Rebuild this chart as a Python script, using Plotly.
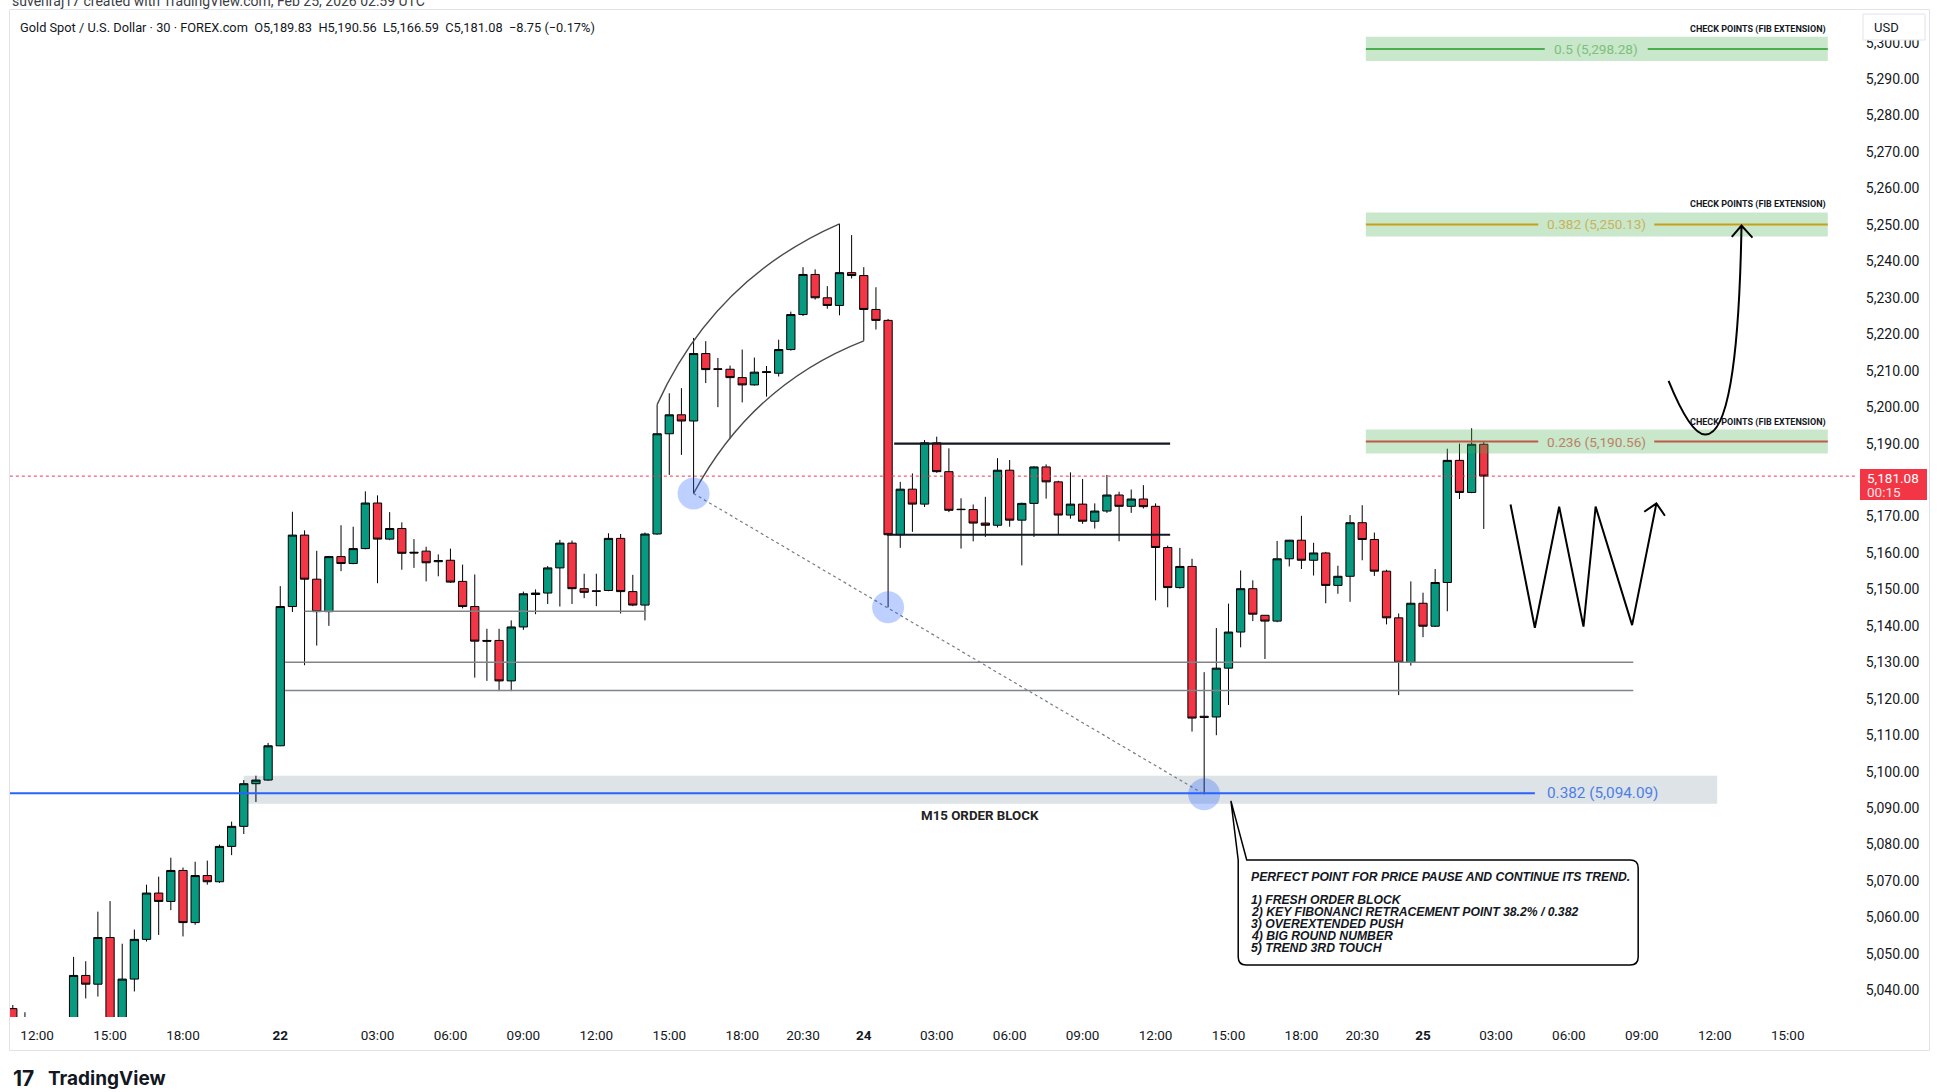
import plotly.graph_objects as go

# 30-min XAUUSD candles. x = bar number (0 = Fri 20 Feb 12:00), closed hours skipped
bar_index = list(range(-2, 120))
opens = [
    5035.0, 5029.0,
    5025.0, 5022.0, 5026.0, 5028.0, 5044.1, 5041.7, 5054.5, 5028.0, 5043.1, 5054.0,
    5066.7, 5064.4, 5072.9, 5058.6, 5071.5, 5069.8, 5079.5, 5085.0, 5096.7, 5097.7,
    5107.1, 5145.3, 5164.9, 5152.8, 5143.9, 5159.0, 5157.1, 5161.2, 5173.7, 5163.8,
    5166.7, 5160.2, 5160.5, 5157.6, 5158.0, 5152.2, 5145.3, 5136.0, 5136.0, 5124.9,
    5139.7, 5148.6, 5149.0, 5155.9, 5162.7, 5150.2, 5149.6, 5149.7, 5164.0, 5149.4,
    5145.7, 5165.2, 5192.7, 5197.9, 5196.2, 5214.7, 5210.5, 5210.4, 5208.1, 5206.1,
    5209.5, 5209.3, 5215.8, 5225.4, 5236.4, 5230.0, 5227.9, 5236.9, 5236.1, 5226.8,
    5223.8, 5165.0, 5177.5, 5173.4, 5190.2, 5182.3, 5172.0, 5171.9, 5168.2, 5167.6,
    5182.7, 5169.0, 5173.6, 5183.6, 5179.5, 5170.4, 5173.4, 5168.7, 5171.5, 5175.9,
    5172.8, 5174.8, 5172.8, 5161.5, 5150.5, 5156.3, 5115.2, 5115.0, 5128.4, 5138.3,
    5150.2, 5142.9, 5141.3, 5158.4, 5163.5, 5158.0, 5160.0, 5151.1, 5153.6, 5168.3,
    5163.7, 5155.0, 5142.2, 5130.0, 5146.2, 5139.9, 5151.9, 5185.4, 5176.6, 5189.83,
]
highs = [
    5036.0, 5034.0,
    5030.0, 5028.0, 5031.0, 5049.2, 5048.0, 5061.6, 5064.5, 5052.8, 5056.7, 5069.0,
    5071.2, 5076.4, 5073.7, 5075.3, 5075.6, 5080.0, 5086.3, 5097.7, 5098.9, 5107.9,
    5150.9, 5171.3, 5166.2, 5160.6, 5159.2, 5167.6, 5167.2, 5176.9, 5175.8, 5171.2,
    5168.4, 5163.8, 5161.7, 5159.6, 5161.2, 5156.8, 5154.1, 5139.2, 5139.2, 5141.5,
    5149.4, 5150.0, 5156.4, 5163.6, 5163.4, 5154.3, 5154.3, 5165.4, 5165.2, 5154.0,
    5165.6, 5200.7, 5203.8, 5205.2, 5219.0, 5218.1, 5213.5, 5211.4, 5215.8, 5213.6,
    5211.3, 5218.5, 5226.2, 5238.4, 5237.8, 5233.2, 5250.3, 5247.2, 5238.4, 5232.9,
    5224.2, 5179.5, 5181.8, 5191.0, 5191.9, 5188.7, 5175.0, 5173.3, 5175.4, 5186.0,
    5185.5, 5173.8, 5183.8, 5184.3, 5179.8, 5182.1, 5180.3, 5173.6, 5181.4, 5176.8,
    5177.4, 5178.6, 5173.6, 5162.0, 5161.4, 5158.4, 5127.3, 5139.4, 5146.1, 5155.2,
    5152.5, 5142.9, 5163.3, 5163.6, 5170.2, 5162.8, 5160.3, 5156.5, 5170.4, 5173.1,
    5165.6, 5155.4, 5143.4, 5152.2, 5149.1, 5155.6, 5188.6, 5190.0, 5194.2, 5190.56,
]
lows = [
    5026.0, 5022.0,
    5018.0, 5015.0, 5020.0, 5026.0, 5037.8, 5038.3, 5024.0, 5026.0, 5039.7, 5053.4,
    5055.2, 5062.0, 5054.8, 5058.0, 5069.0, 5069.5, 5077.1, 5082.9, 5091.7, 5097.5,
    5107.0, 5143.8, 5129.2, 5134.6, 5140.0, 5155.0, 5156.9, 5161.0, 5151.7, 5163.5,
    5155.4, 5155.9, 5152.2, 5153.6, 5151.8, 5144.8, 5125.8, 5124.9, 5122.1, 5122.1,
    5138.9, 5143.2, 5146.0, 5145.3, 5146.0, 5147.6, 5145.4, 5149.5, 5143.4, 5145.4,
    5141.5, 5165.0, 5181.4, 5186.9, 5176.3, 5206.6, 5200.0, 5191.4, 5201.3, 5205.9,
    5202.9, 5208.4, 5215.5, 5225.0, 5229.5, 5227.0, 5225.2, 5235.3, 5218.2, 5221.3,
    5145.1, 5161.4, 5165.8, 5172.6, 5182.0, 5171.2, 5161.2, 5163.2, 5164.4, 5167.0,
    5167.2, 5156.6, 5164.4, 5174.9, 5165.0, 5169.4, 5168.0, 5166.7, 5171.0, 5163.2,
    5171.0, 5172.2, 5147.0, 5145.1, 5150.2, 5111.0, 5093.8, 5110.0, 5118.3, 5134.1,
    5141.3, 5130.9, 5141.0, 5156.3, 5155.6, 5153.8, 5146.2, 5148.8, 5146.6, 5158.0,
    5153.7, 5140.4, 5121.0, 5129.1, 5136.9, 5139.7, 5144.0, 5174.8, 5176.4, 5166.59,
]
closes = [
    5029.0, 5025.0,
    5022.0, 5026.0, 5028.0, 5044.1, 5041.7, 5054.5, 5028.0, 5043.1, 5054.0, 5066.7,
    5064.4, 5072.9, 5058.6, 5071.5, 5069.8, 5079.5, 5085.0, 5096.7, 5097.7, 5107.1,
    5145.3, 5164.9, 5152.8, 5143.9, 5159.0, 5157.1, 5161.2, 5173.7, 5163.8, 5166.7,
    5159.9, 5160.0, 5157.3, 5157.9, 5152.0, 5145.3, 5135.8, 5135.8, 5124.9, 5139.7,
    5148.8, 5149.0, 5155.9, 5162.7, 5150.2, 5149.2, 5149.5, 5164.0, 5149.4, 5145.7,
    5165.2, 5192.7, 5197.9, 5196.2, 5214.7, 5210.3, 5210.4, 5208.1, 5206.1, 5209.6,
    5209.7, 5215.8, 5225.4, 5236.4, 5230.0, 5227.9, 5236.9, 5236.1, 5226.8, 5223.8,
    5165.0, 5177.5, 5173.4, 5190.2, 5182.3, 5171.7, 5171.9, 5168.2, 5167.6, 5182.7,
    5169.0, 5173.6, 5183.6, 5179.5, 5170.4, 5173.4, 5168.7, 5171.5, 5175.9, 5172.8,
    5174.8, 5172.7, 5161.5, 5150.5, 5156.3, 5114.7, 5114.9, 5128.4, 5138.3, 5150.2,
    5143.2, 5141.3, 5158.4, 5163.5, 5158.0, 5160.0, 5151.1, 5153.6, 5168.3, 5163.7,
    5155.0, 5142.2, 5130.0, 5146.2, 5139.9, 5151.9, 5185.4, 5176.6, 5189.83, 5181.08,
]

# time axis
tick_bars = [0, 6, 12, 20, 28, 34, 40, 46, 52, 58, 63, 68, 74, 80, 86, 92, 98,
             104, 109, 114, 120, 126, 132, 138, 144]
tick_labels = ["12:00", "15:00", "18:00", "22", "03:00", "06:00", "09:00", "12:00",
               "15:00", "18:00", "20:30", "24", "03:00", "06:00", "09:00", "12:00",
               "15:00", "18:00", "20:30", "25", "03:00", "06:00", "09:00", "12:00", "15:00"]
day_labels = ["22", "24", "25"]
price_ticks = list(range(5040, 5301, 10))

# fib extension check points
fib_ratios = [0.5, 0.382, 0.236]
fib_prices = [5298.28, 5250.13, 5190.56]
fib_colors = ["#4caf50", "#ff9800", "#f23645"]
fib_text_colors = ["#7cc07e", "#c9b25c", "#b98268"]

# M15 order block + 0.382 retracement
ob_ratio = 0.382
ob_price = 5094.09
ob_zone = [5091.2, 5098.9]

# drawn levels: (start bar, end bar, price)
gray_levels = [(22, 50.1, 5144.0), (20.4, 131.3, 5130.0), (20.4, 131.3, 5122.3)]
range_lines = [(70.5, 93.2, 5190.0), (69.9, 93.2, 5165.0)]

# trend touches (bar, price)
touch_bars = [54, 70, 96]
touch_prices = [5176.3, 5145.1, 5093.8]

# projected zigzag
zigzag_bars = [121.2, 123.2, 125.2, 127.2, 128.2, 131.2, 133.2]
zigzag_prices = [5173.3, 5139.5, 5172.7, 5139.8, 5172.7, 5140.2, 5173.6]

callout_title = "PERFECT POINT FOR PRICE PAUSE AND CONTINUE ITS TREND."
callout_points = ["1) FRESH ORDER BLOCK",
                  "2) KEY FIBONANCI RETRACEMENT POINT 38.2% / 0.382",
                  "3) OVEREXTENDED PUSH",
                  "4) BIG ROUND NUMBER",
                  "5) TREND 3RD TOUCH"]

# ---- layout geometry ----
W, H = 1941, 1092
ML, MR, MT, MB = 10, 84, 12, 75
PW, PH = W - ML - MR, H - MT - MB
XR = [-2.23, 149.7]
YR = [5032.7, 5308.4]
px_bar = PW / (XR[1] - XR[0])
px_usd = PH / (YR[1] - YR[0])


def paper_x(px):
    return (px - ML) / PW


def paper_y(py):
    return (H - MB - py) / PH


def price_at(py):
    return YR[1] - (py - MT) / px_usd


FONT = "Roboto"
NOTE_FONT = "Liberation Sans"
INK = "#131722"
GREEN, RED = "#089981", "#f23645"

fig = go.Figure()
fig.add_trace(go.Candlestick(
    x=bar_index, open=opens, high=highs, low=lows, close=closes,
    increasing=dict(fillcolor=GREEN, line=dict(color="#000000", width=1)),
    decreasing=dict(fillcolor=RED, line=dict(color="#000000", width=1)),
    whiskerwidth=0, hoverinfo="skip", showlegend=False,
))

shapes = []
ann = []


def hline(x0, x1, y, color, width, dash="solid", layer="above"):
    shapes.append(dict(type="line", xref="x", yref="y", x0=x0, x1=x1, y0=y, y1=y,
                       line=dict(color=color, width=width, dash=dash), layer=layer))


# panel border
shapes.append(dict(type="rect", xref="paper", yref="paper",
                   x0=paper_x(9.5), x1=paper_x(1929.5), y0=paper_y(1050.5), y1=paper_y(9.5),
                   line=dict(color="#e0e3eb", width=1), fillcolor="rgba(0,0,0,0)", layer="below"))

# order block zone + 0.382 line
shapes.append(dict(type="rect", xref="x", yref="y", x0=17, x1=138.2, y0=ob_zone[0], y1=ob_zone[1],
                   fillcolor="rgba(120,144,156,0.25)", line=dict(width=0), layer="below"))
hline(XR[0] - 1, 123.2, ob_price, "#2962ff", 2)
ann.append(dict(x=124, y=ob_price, xref="x", yref="y", xanchor="left", yanchor="middle",
                text=f"{ob_ratio} ({ob_price:,.2f})", showarrow=False,
                font=dict(family=FONT, size=15.3, color="#4c7fe6")))
ann.append(dict(x=77.6, y=5088.1, xref="x", yref="y", xanchor="center", yanchor="middle",
                text="<b>M15 ORDER BLOCK</b>", showarrow=False,
                font=dict(family=FONT, size=13.3, color="#222222")))

for x0, x1, y in gray_levels:
    hline(x0, x1, y, "#808388", 1.5)
for x0, x1, y in range_lines:
    hline(x0, x1, y, INK, 2.2)

# current price dotted line
hline(XR[0] - 1, XR[1] + 1, closes[-1], RED, 1, dash="dot")

# trend line through the three touches
shapes.append(dict(type="line", xref="x", yref="y", x0=touch_bars[0], y0=touch_prices[0],
                   x1=touch_bars[-1], y1=touch_prices[-1],
                   line=dict(color="#787b86", width=1.2, dash="dot"), layer="above"))

# arc channel
shapes.append(dict(type="path", xref="x", yref="y", layer="above",
                   path=f"M 51,{highs[53]} Q 55.7,5235.3 66,{highs[68]}",
                   line=dict(color="#4a4a4a", width=1.4)))
shapes.append(dict(type="path", xref="x", yref="y", layer="above",
                   path=f"M 54,{touch_prices[0]} Q 58.8,5206.2 68,{lows[70]}",
                   line=dict(color="#4a4a4a", width=1.4)))

for bx, by in zip(touch_bars, touch_prices):
    shapes.append(dict(type="circle", xref="x", yref="y", xsizemode="pixel", ysizemode="pixel",
                       xanchor=bx, yanchor=by, x0=-16, x1=16, y0=-16, y1=16,
                       fillcolor="rgba(41,98,255,0.3)", line=dict(width=0), layer="above"))

# fib extension levels
fx0, fx1, fxc = 109.3, 147.3, 128.25
for ratio, price, col, tcol in zip(fib_ratios, fib_prices, fib_colors, fib_text_colors):
    label = f"{ratio} ({price:,.2f})"
    gap = (len(label) * 6.5 + 12) / 2 / px_bar
    hline(fx0, fxc - gap, price, col, 2)
    hline(fxc + gap, fx1, price, col, 2)
    shapes.append(dict(type="rect", xref="x", yref="y", x0=fx0, x1=fx1, y0=price - 3.3, y1=price + 3.3,
                       fillcolor="rgba(76,175,80,0.3)", line=dict(width=0), layer="above"))
    ann.append(dict(x=fxc, y=price, xref="x", yref="y", xanchor="center", yanchor="middle",
                    text=label, showarrow=False, font=dict(family=FONT, size=13.6, color=tcol)))
    ann.append(dict(x=fx1, y=price + 3.3, xref="x", yref="y", xanchor="right", yanchor="bottom",
                    yshift=0, text="<b>CHECK POINTS (FIB EXTENSION)</b>", showarrow=False,
                    font=dict(family=FONT, size=9, color=INK)))

# zigzag projection
zz = "M " + " L ".join(f"{x},{y}" for x, y in zip(zigzag_bars, zigzag_prices))
zz += f" M 132.2,5171.3 L {zigzag_bars[-1]},{zigzag_prices[-1]} L 133.9,5170.2"
shapes.append(dict(type="path", xref="x", yref="y", path=zz, layer="above",
                   line=dict(color="#000000", width=2)))

# curved arrow to 0.382 extension
ca = (f"M 134.2,5207.2 Q 136,5192.5 137.2,5192.5 Q 139.9,5192 140.2,5249.8 "
      f"M 139.4,5246.7 L 140.2,5249.8 L 141.1,5246.5")
shapes.append(dict(type="path", xref="x", yref="y", path=ca, layer="above",
                   line=dict(color="#000000", width=2)))

# callout box
L, R, T, B = 98.8, 131.7, price_at(860), price_at(965)
rx, ry = 8 / px_bar, 8 / px_usd
tip = (98.2, 5092.0)
box = (f"M {tip[0]},{tip[1]} L 99.5,{T} L {R - rx},{T} Q {R},{T} {R},{T - ry} "
       f"L {R},{B + ry} Q {R},{B} {R - rx},{B} L {L + rx},{B} Q {L},{B} {L},{B + ry} L {L},{T} Z")
shapes.append(dict(type="path", xref="x", yref="y", path=box, layer="above",
                   fillcolor="#ffffff", line=dict(color="#000000", width=1.5)))
lines_px = [877] + [899.5 + 12.1 * k for k in range(len(callout_points))]
for txt, py in zip([callout_title] + callout_points, lines_px):
    ann.append(dict(x=99.7, y=price_at(py), xref="x", yref="y", xanchor="left", yanchor="middle",
                    text=f"<b><i>{txt}</i></b>", showarrow=False,
                    font=dict(family=NOTE_FONT, size=12.2, color=INK)))

# price label on the scale
shapes.append(dict(type="rect", xref="paper", yref="paper", x0=paper_x(1860), x1=paper_x(1927),
                   y0=paper_y(500), y1=paper_y(469), fillcolor=RED, line=dict(width=0), layer="above"))
ann.append(dict(x=paper_x(1865), y=paper_y(478), xref="paper", yref="paper", xanchor="left",
                yanchor="middle", text=f"{closes[-1]:,.2f}", showarrow=False,
                font=dict(family=FONT, size=13.5, color="#ffffff")))
ann.append(dict(x=paper_x(1865), y=paper_y(492), xref="paper", yref="paper", xanchor="left",
                yanchor="middle", text="00:15", showarrow=False,
                font=dict(family=FONT, size=13.5, color="#ffe4e6")))

# USD box
shapes.append(dict(type="rect", xref="paper", yref="paper", x0=paper_x(1863), x1=paper_x(1925),
                   y0=paper_y(40), y1=paper_y(14), fillcolor="#ffffff",
                   line=dict(color="#e0e3eb", width=1), layer="above"))
ann.append(dict(x=paper_x(1872), y=paper_y(27), xref="paper", yref="paper", xanchor="left",
                yanchor="middle", text="USD", showarrow=False,
                font=dict(family=FONT, size=13, color=INK)))

# header texts
chg = closes[-1] - closes[-2]
pct = chg / closes[-2] * 100
sp = "\u00a0\u00a0"
title = (f"Gold Spot / U.S. Dollar · 30 · FOREX.com{sp}O{opens[-1]:,.2f}{sp}H{highs[-1]:,.2f}"
         f"{sp}L{lows[-1]:,.2f}{sp}C{closes[-1]:,.2f}{sp}{chg:+.2f} ({pct:+.2f}%)").replace("-", "−")
ann.append(dict(x=paper_x(18), y=paper_y(27), xref="paper", yref="paper", xanchor="left",
                yanchor="middle", text=title, showarrow=False,
                font=dict(family=FONT, size=12.8, color=INK)))
ann.append(dict(x=paper_x(10), y=paper_y(1), xref="paper", yref="paper", xanchor="left",
                yanchor="middle", text="suvenraj17 created with TradingView.com, Feb 25, 2026 02:59 UTC",
                showarrow=False, font=dict(family=FONT, size=14, color="#3a3d45")))
ann.append(dict(x=paper_x(11), y=paper_y(1078), xref="paper", yref="paper", xanchor="left",
                yanchor="middle", text="<b>17</b>", showarrow=False,
                font=dict(family="Inter", size=21, color=INK)))
ann.append(dict(x=paper_x(46), y=paper_y(1078), xref="paper", yref="paper", xanchor="left",
                yanchor="middle", text="<b>TradingView</b>", showarrow=False,
                font=dict(family="Inter", size=19, color=INK)))

ticktext = [f"<b>{t}</b>" if t in day_labels else t for t in tick_labels]

fig.update_layout(
    width=W, height=H,
    margin=dict(l=ML, r=MR, t=MT, b=MB),
    paper_bgcolor="#ffffff", plot_bgcolor="#ffffff",
    showlegend=False, hovermode=False,
    boxgap=0.15, boxgroupgap=0.2,
    shapes=shapes, annotations=ann,
    font=dict(family=FONT, color=INK),
    xaxis=dict(range=XR, rangeslider=dict(visible=False), showgrid=False, zeroline=False,
               showline=False, tickmode="array", tickvals=tick_bars, ticktext=ticktext,
               ticks="outside", ticklen=6, tickcolor="rgba(0,0,0,0)",
               tickfont=dict(family=FONT, size=13.5, color=INK)),
    yaxis=dict(range=YR, side="right", showgrid=False, zeroline=False, showline=False,
               tickmode="array", tickvals=price_ticks, tickformat=",.2f",
               ticks="outside", ticklen=5, tickcolor="rgba(0,0,0,0)",
               tickfont=dict(family=FONT, size=14, color=INK)),
)

fig.write_html("out.html", config={"displayModeBar": False},
               post_script="document.body.style.margin='0';")
